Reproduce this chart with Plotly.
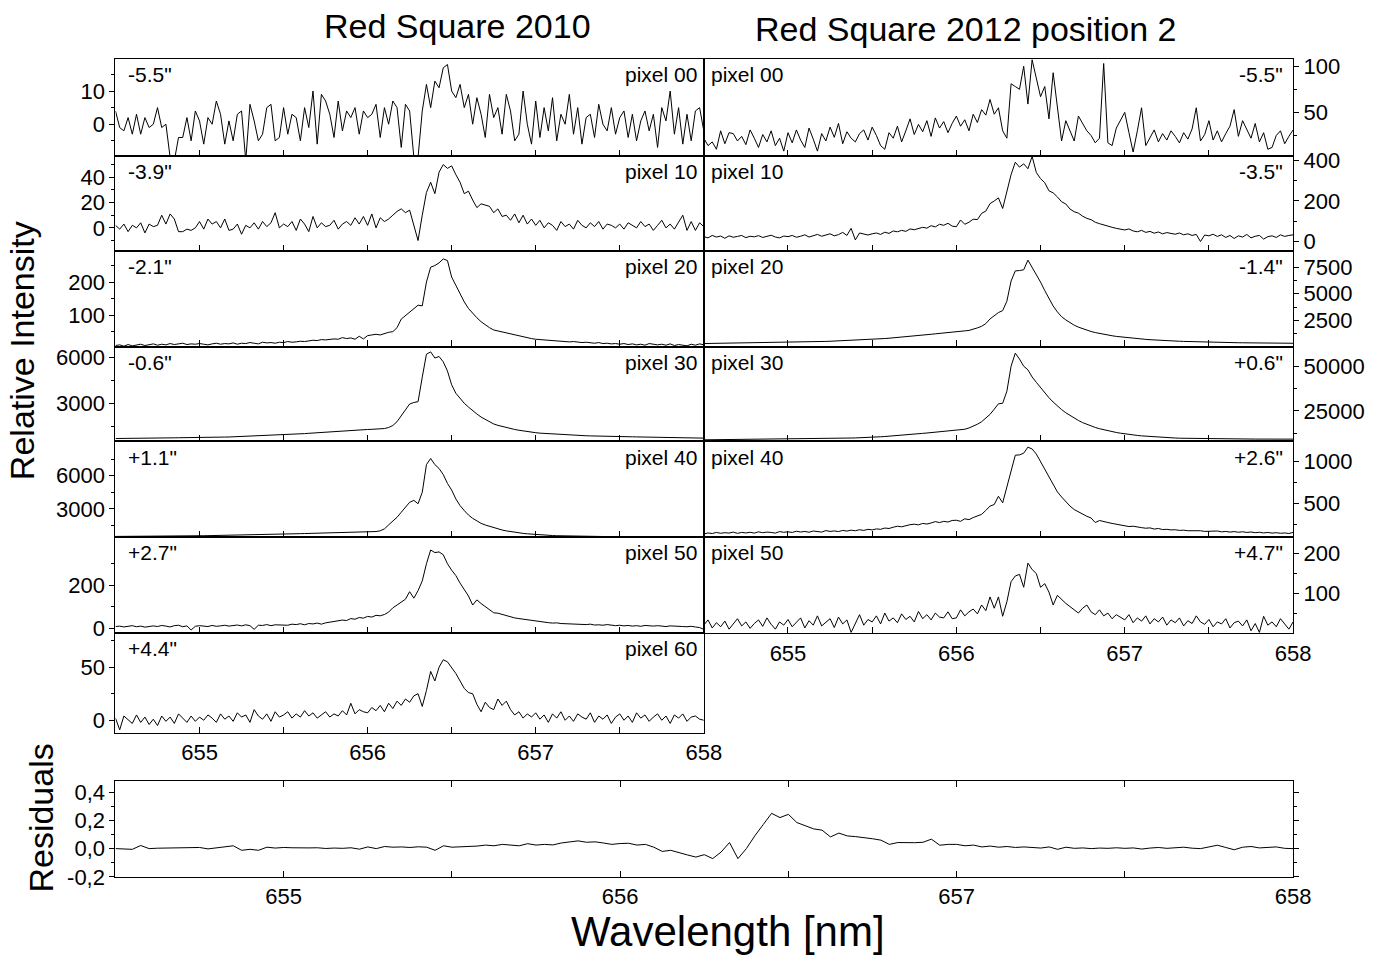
import plotly.graph_objects as go

# ---------------- data ----------------
WL = [654.5, 654.525, 654.55, 654.575, 654.6, 654.625, 654.65, 654.675, 654.7, 654.725,
      654.75, 654.775, 654.8, 654.825, 654.85, 654.875, 654.9, 654.925, 654.95, 654.975,
      655.0, 655.025, 655.05, 655.075, 655.1, 655.125, 655.15, 655.175, 655.2, 655.225,
      655.25, 655.275, 655.3, 655.325, 655.35, 655.375, 655.4, 655.425, 655.45, 655.475,
      655.5, 655.525, 655.55, 655.575, 655.6, 655.625, 655.65, 655.675, 655.7, 655.725,
      655.75, 655.775, 655.8, 655.825, 655.85, 655.875, 655.9, 655.925, 655.95, 655.975,
      656.0, 656.025, 656.05, 656.075, 656.1, 656.125, 656.15, 656.175, 656.2, 656.225,
      656.25, 656.275, 656.3, 656.325, 656.35, 656.375, 656.4, 656.425, 656.45, 656.475,
      656.5, 656.525, 656.55, 656.575, 656.6, 656.625, 656.65, 656.675, 656.7, 656.725,
      656.75, 656.775, 656.8, 656.825, 656.85, 656.875, 656.9, 656.925, 656.95, 656.975,
      657.0, 657.025, 657.05, 657.075, 657.1, 657.125, 657.15, 657.175, 657.2, 657.225,
      657.25, 657.275, 657.3, 657.325, 657.35, 657.375, 657.4, 657.425, 657.45, 657.475,
      657.5, 657.525, 657.55, 657.575, 657.6, 657.625, 657.65, 657.675, 657.7, 657.725,
      657.75, 657.775, 657.8, 657.825, 657.85, 657.875, 657.9, 657.925, 657.95, 657.975,
      658.0]

# Red Square 2010
L_PX00 = [4, -1, -2, 2, -3, 3, -3, 2, -1, 0, 5, -1, 0, -10, -11, -4, -4, 2, -5, 4,
          1, -6, 2, 0, 7, 3, -6, 1, -5, 3, 4, -11, 6, 1, -5, -3, 5, 6, -5, -4,
          5, -3, 3, 2, -5, 5, -1, 10, -6, 9, 7, 3, -4, 7, -2, 4, 2, 5, -3, 4,
          2, 3, 6, -4, 5, 0, 7, 5, -7, 6, 4, -10, -10, 4, 12, 5, 13, 11, 17, 18,
          10, 8, 12, 5, 9, 0, 8, 3, -4, 9, 2, 5, -3, 9, 4, -5, -3, 10, 0, -6,
          7, -4, 5, -2, 8, -5, 3, 0, 9, -3, 5, -6, 2, 3, -4, 6, 0, -2, 5, -3,
          2, 4, -4, 3, -5, 1, 4, -2, 3, -7, 5, 1, 10, -3, 5, -6, 3, -5, 4, 5, -2]
L_PX10 = [2, -1, 3, -3, 2, 0, 4, -4, 3, 1, 2, 10, 3, 11, 7, -3, -3, -1, -2, 0,
          5, -1, 7, 3, 5, 0, 7, -2, -1, 3, -5, 2, 0, 4, -1, 5, 1, 4, 12, 0,
          3, 1, 5, -2, 7, 3, -3, 9, 0, 4, 1, 2, 6, -1, 3, 5, 2, 8, 3, 9,
          2, 11, 0, 8, 5, 7, 10, 13, 15, 12, 14, 3, -10, 10, 28, 36, 27, 44, 50, 47,
          49, 42, 36, 27, 29, 22, 16, 19, 18, 17, 12, 15, 9, 10, 6, 11, 4, 10, 3, 7,
          2, 6, 0, 4, 2, -2, 5, 1, 3, -1, 6, 2, 0, 4, 1, 5, -1, 3, 2, 0,
          3, -1, 4, 2, 0, 5, 1, 3, -2, 2, 6, 0, 3, -1, 4, 10, -2, 5, -2, 4, 1]
L_PX20 = [8, 10, 6, 11, 7, 9, 12, 8, 10, 13, 9, 12, 10, 14, 11, 12, 15, 11, 13, 12,
          14, 12, 10, 13, 15, 12, 14, 13, 16, 12, 15, 14, 17, 15, 13, 18, 16, 17, 15, 18,
          17, 20, 18, 19, 21, 20, 22, 24, 23, 26, 25, 27, 28, 27, 32, 29, 31, 27, 36, 28,
          38, 40, 42, 40, 45, 48, 50, 62, 88, 98, 108, 120, 130, 128, 200, 245, 250, 258, 270, 265,
          215, 190, 165, 140, 120, 105, 92, 80, 70, 62, 55, 52, 48, 46, 42, 40, 36, 34, 31, 29,
          27, 26, 25, 24, 22, 23, 21, 20, 19, 20, 18, 17, 18, 16, 15, 17, 14, 15, 13, 14,
          12, 14, 11, 13, 10, 12, 9, 14, 11, 10, 12, 9, 13, 8, 11, 10, 7, 12, 9, 13, 10]
L_PX30 = [700, 700, 705, 710, 710, 715, 720, 720, 725, 730, 730, 735, 740, 740, 745, 750, 750, 755, 760, 760,
          765, 770, 775, 780, 785, 790, 795, 800, 810, 815, 820, 830, 840, 850, 860, 870, 880, 890, 900, 915,
          930, 945, 960, 980, 1000, 1020, 1040, 1060, 1080, 1100, 1130, 1150, 1170, 1190, 1210, 1230, 1250, 1260, 1270, 1280,
          1290, 1300, 1310, 1320, 1350, 1420, 1550, 1800, 2200, 2600, 2950, 3050, 3100, 4700, 6200, 6350, 5950, 6050, 5700, 5100,
          4200, 3650, 3300, 3000, 2750, 2500, 2300, 2100, 1950, 1800, 1650, 1560, 1480, 1410, 1350, 1290, 1240, 1190, 1150, 1110,
          1080, 1050, 1030, 1010, 990, 970, 955, 940, 925, 910, 900, 890, 880, 870, 860, 850, 845, 840, 835, 830,
          825, 820, 815, 810, 805, 800, 795, 790, 785, 780, 775, 770, 765, 760, 755, 750, 745, 740, 735, 730, 725]
L_PX40 = [520, 520, 525, 525, 530, 530, 535, 535, 540, 540, 545, 545, 550, 550, 555, 560, 560, 565, 570, 575,
          580, 585, 590, 595, 600, 605, 610, 615, 620, 625, 630, 640, 650, 660, 670, 680, 690, 700, 710, 720,
          730, 740, 750, 760, 770, 780, 790, 800, 810, 820, 830, 840, 850, 855, 860, 865, 870, 875, 880, 885,
          890, 920, 960, 1030, 1200, 1560, 1900, 2250, 2700, 3150, 3600, 3770, 3470, 4500, 7000, 7550, 7000, 6650, 6100, 5300,
          4700, 3900, 3300, 2850, 2450, 2150, 1900, 1700, 1550, 1420, 1300, 1190, 1100, 1020, 950, 890, 840, 795, 755, 720,
          690, 665, 640, 620, 600, 585, 572, 560, 550, 542, 535, 530, 525, 520, 518, 515, 512, 510, 508, 505,
          503, 500, 498, 496, 495, 493, 492, 490, 489, 488, 487, 486, 485, 484, 483, 482, 481, 480, 480, 480, 480]
L_PX50 = [8, 10, 6, 9, 12, 7, 10, 5, 9, 11, 8, 13, 10, 6, 12, 14, 7, 11, -8, 9,
          12, 10, 8, 13, 9, 11, 14, 10, 12, 15, 11, 16, 12, -5, 14, 13, 17, 12, 16, 15,
          16, 14, 19, 17, 21, 16, 22, 20, 24, 19, 25, 28, 30, 33, 38, 36, 45, 42, 50, 47,
          55, 52, 60, 58, 64, 75, 95, 108, 120, 135, 170, 140, 175, 220, 300, 364, 352, 355, 342, 300,
          270, 245, 210, 180, 150, 108, 132, 115, 100, 88, 72, 70, 64, 58, 52, 48, 45, 42, 40, 38,
          32, 30, 29, 26, 24, 25, 22, 21, 23, 19, 20, 18, 17, 19, 15, 16, 14, 17, 13, 12,
          14, 11, 13, 10, 12, 9, 13, 11, 10, 12, 9, 8, 11, 9, 10, 8, 7, 9, 6, 3, -5]
L_PX60 = [2, -9, 4, 0, -3, 5, -2, 3, -4, 1, -5, 4, -1, 3, -3, 6, 2, -2, 4, -1,
          3, 0, 5, 2, -2, 6, 1, 4, -1, 7, 3, 5, -2, 10, 4, 1, 6, -1, 8, 3,
          5, 8, 2, 6, 3, 9, 4, 7, 2, 5, 8, 3, 6, 4, 9, 5, 16, 6, 10, 8,
          7, 12, 9, 14, 8, 16, 11, 18, 14, 20, 17, 23, 25, 13, 28, 46, 37, 50, 57, 55,
          50, 44, 37, 30, 26, 25, 15, 8, 17, 12, 10, 20, 14, 18, 10, 5, 8, 2, 6, 3,
          7, 1, 5, -2, 6, 2, 8, 0, 4, -1, 6, 3, 1, 7, -2, 4, 1, 5, -3, 3,
          6, 0, 4, -2, 7, 2, 5, -1, 3, 6, 0, 4, -3, 5, 2, 6, -1, 3, 4, 1, 0]

# Red Square 2012 position 2
R_PX00 = [22, 14, 18, 10, 30, 16, 28, 27, 19, 24, 15, 31, 22, 12, 26, 18, 30, 14, 22, 8,
          28, 17, 31, 20, 12, 33, 21, 8, 27, 19, 34, 23, 38, 16, 29, 22, 18, 27, 31, 20,
          34, 25, 14, 10, 28, 22, 35, 18, 30, 43, 26, 37, 29, 41, 24, 44, 33, 40, 28, 38,
          46, 35, 42, 30, 48, 39, 53, 47, 64, 48, 55, 30, 22, 81, 78, 75, 100, 59, 107, 86,
          67, 78, 43, 93, 57, 19, 41, 30, 19, 46, 38, 30, 25, 17, 22, 103, 17, 14, 33, 42,
          50, 28, 7, 30, 55, 14, 22, 31, 18, 27, 20, 30, 24, 17, 28, 21, 32, 55, 19, 26,
          41, 20, 30, 18, 27, 35, 53, 24, 41, 32, 22, 38, 18, 28, 10, 12, 25, 30, 16, 24, 31]
R_PX10 = [24, 18, 30, 22, 27, 16, 28, 21, 25, 30, 19, 26, 23, 29, 20, 25, 31, 22, 18, 27,
          24, 30, 21, 26, 33, 22, 29, 35, 26, 31, 38, 28, 34, 45, 30, 65, 8, 42, 36, 32,
          38, 42, 35, 46, 40, 52, 48, 55, 50, 62, 58, 64, 70, 66, 78, 72, 85, 80, 90, 76,
          73, 106, 85, 95, 110, 108, 139, 150, 187, 200, 215, 163, 250, 330, 391, 367, 383, 359, 420, 340,
          310, 290, 250, 240, 220, 196, 185, 160, 147, 140, 125, 114, 108, 95, 88, 81, 76, 70, 65, 60,
          57, 62, 52, 48, 55, 45, 50, 41, 47, 38, 44, 40, 36, 42, 33, 38, 30, 35, 0, 32,
          28, 36, 25, 33, 20, 30, 15, 28, 22, 35, 18, 26, 30, 12, 24, 28, 20, 33, 25, 30, 33]
R_PX20 = [330, 335, 340, 345, 350, 355, 360, 365, 370, 375, 380, 385, 390, 400, 405, 410, 420, 425, 430, 440,
          450, 455, 465, 470, 480, 490, 500, 510, 520, 530, 545, 560, 575, 590, 605, 620, 640, 660, 680, 700,
          720, 745, 770, 800, 830, 860, 890, 920, 950, 990, 1030, 1070, 1110, 1150, 1200, 1240, 1290, 1330, 1360, 1400,
          1450, 1480, 1520, 1560, 1650, 1800, 1950, 2200, 2640, 2950, 3240, 3420, 4300, 6200, 7150, 7180, 7250, 8160, 7500, 6800,
          6100, 5300, 4500, 3850, 3300, 2850, 2550, 2280, 2050, 1870, 1710, 1580, 1460, 1360, 1270, 1190, 1120, 1060, 1000, 950,
          900, 860, 820, 780, 750, 720, 690, 660, 640, 620, 600, 580, 560, 545, 530, 515, 500, 490, 480, 470,
          460, 450, 440, 430, 425, 420, 410, 405, 400, 395, 390, 385, 380, 375, 370, 368, 365, 362, 360, 358, 355]
R_PX30 = [8900, 8920, 8940, 8960, 8980, 9000, 9020, 9040, 9060, 9080, 9100, 9120, 9140, 9160, 9180, 9200, 9230, 9260, 9290, 9320,
          9350, 9380, 9410, 9440, 9470, 9500, 9530, 9560, 9600, 9640, 9680, 9720, 9760, 9800, 9850, 9900, 9950, 10000, 10100, 10200,
          10300, 10450, 10600, 10750, 10900, 11100, 11300, 11500, 11700, 11900, 12100, 12300, 12500, 12700, 12900, 13100, 13300, 13500, 13700, 13900,
          14200, 14500, 14800, 15500, 16500, 17600, 19000, 21000, 23100, 26000, 29000, 29300, 36000, 50000, 57300, 54000, 50000, 48000, 44000, 41000,
          38000, 35000, 32400, 30000, 27800, 25800, 24000, 22400, 21000, 19700, 18500, 17500, 16600, 15800, 15100, 14500, 14000, 13500, 13000, 12600,
          12200, 11900, 11600, 11350, 11100, 10900, 10700, 10550, 10400, 10250, 10100, 10000, 9900, 9800, 9750, 9700, 9650, 9600, 9550, 9500,
          9480, 9460, 9440, 9420, 9400, 9380, 9370, 9360, 9350, 9340, 9330, 9320, 9310, 9300, 9300, 9290, 9290, 9280, 9280, 9270, 9270]
R_PX40 = [140, 152, 145, 158, 148, 155, 150, 162, 147, 158, 152, 160, 150, 165, 155, 162, 158, 150, 168, 160,
          165, 158, 172, 163, 170, 160, 175, 168, 162, 180, 170, 176, 168, 182, 174, 185, 178, 190, 182, 195,
          188, 200, 195, 210, 205, 220, 232, 225, 240, 250, 256, 248, 265, 258, 270, 287, 275, 290, 282, 300,
          303, 290, 320, 310, 335, 355, 373, 420, 471, 490, 588, 510, 700, 900, 1076, 1080, 1100, 1172, 1150, 1090,
          1000, 900, 820, 720, 640, 580, 520, 471, 430, 400, 373, 350, 330, 276, 300, 285, 276, 265, 255, 245,
          237, 228, 232, 220, 215, 208, 212, 198, 205, 192, 195, 188, 190, 182, 185, 178, 180, 175, 178, 170,
          172, 168, 175, 165, 170, 162, 168, 160, 166, 158, 163, 155, 160, 152, 158, 150, 155, 148, 152, 145, 158]
R_PX50 = [22, 35, 15, 28, 18, 32, 12, 25, 38, 20, 30, 14, 26, 35, 19, 40, 24, 12, 30, 22,
          36, 18, 28, 40, 15, 33, 22, 45, 20, 30, 38, 16, 42, 25, 35, 4, 28, 48, 22, 36,
          30, 45, 25, 52, 32, 40, 28, 50, 36, 44, 30, 56, 38, 48, 35, 52, 42, 40, 55, 38,
          40, 60, 45, 55, 62, 50, 72, 58, 92, 64, 92, 44, 80, 130, 144, 148, 116, 176, 160, 150,
          116, 125, 104, 72, 96, 85, 76, 68, 60, 52, 64, 72, 55, 48, 60, 45, 52, 38, 48, 42,
          35, 48, 28, 40, 32, 45, 25, 38, 30, 42, 22, 35, 28, 40, 20, 33, 26, 45, 30, 24,
          36, 18, 30, 25, 38, 15, 28, 32, 20, 35, 8, 26, 4, 44, 22, 30, 18, 38, 25, 12, 30]

RESID = [0.000, -0.004, -0.005, 0.022, 0.000, 0.003, 0.004, 0.005, 0.006, 0.003,
         0.008, -0.002, 0.005, 0.010, 0.020, -0.012, -0.005, -0.012, 0.010, 0.004,
         0.008, 0.006, 0.003, 0.005, 0.006, 0.001, 0.004, 0.002, 0.006, -0.004,
         0.012, 0.000, 0.015, 0.010, 0.012, 0.008, 0.013, 0.010, -0.012, 0.020,
         0.010, 0.012, 0.015, 0.018, 0.025, 0.020, 0.030, 0.024, 0.020, 0.035,
         0.025, 0.030, 0.026, 0.040, 0.045, 0.055, 0.045, 0.048, 0.040, 0.030,
         0.036, 0.038, 0.025, 0.030, 0.010, -0.020, -0.012, -0.030, -0.045, -0.060,
         -0.043, -0.071, -0.024, 0.043, -0.071, 0.000, 0.090, 0.170, 0.250, 0.220,
         0.243, 0.185, 0.160, 0.140, 0.131, 0.083, 0.110, 0.090, 0.085, 0.080,
         0.070, 0.060, 0.030, 0.043, 0.040, 0.042, 0.045, 0.067, 0.024, 0.030,
         0.030, 0.020, 0.025, 0.012, 0.018, 0.010, 0.015, 0.008, 0.012, 0.010,
         0.004, 0.012, -0.005, 0.010, 0.002, 0.005, 0.000, 0.004, 0.002, 0.006,
         0.002, 0.005, -0.003, 0.004, 0.008, 0.002, 0.006, 0.010, 0.003, 0.000,
         0.012, 0.024, 0.008, -0.008, 0.010, 0.015, 0.005, 0.010, 0.012, 0.002, 0.000]

LEFT_SERIES = [L_PX00, L_PX10, L_PX20, L_PX30, L_PX40, L_PX50, L_PX60]
LEFT_OFFSET = ['-5.5"', '-3.9"', '-2.1"', '-0.6"', '+1.1"', '+2.7"', '+4.4"']
LEFT_PIXEL = ['pixel 00', 'pixel 10', 'pixel 20', 'pixel 30', 'pixel 40', 'pixel 50', 'pixel 60']
LEFT_YRANGE = [[-9.5, 19.7], [-18, 57], [5, 295], [510, 6700], [440, 9090], [-23, 423], [-12, 82]]
LEFT_YTICKS = [[0, 10], [0, 20, 40], [100, 200], [3000, 6000], [3000, 6000], [0, 200], [0, 50]]
LEFT_YMINOR = [[-5, 5, 15], [-10, 10, 30, 50], [50, 150, 250], [1500, 4500], [1500, 4500, 7500],
               [100, 300], [25, 75]]

RIGHT_SERIES = [R_PX00, R_PX10, R_PX20, R_PX30, R_PX40, R_PX50]
RIGHT_OFFSET = ['-5.5"', '-3.5"', '-1.4"', '+0.6"', '+2.6"', '+4.7"']
RIGHT_PIXEL = ['pixel 00', 'pixel 10', 'pixel 20', 'pixel 30', 'pixel 40', 'pixel 50']
RIGHT_YRANGE = [[3, 108], [-45, 423], [50, 9050], [8000, 61000], [100, 1240], [2, 240]]
RIGHT_YTICKS = [[50, 100], [0, 200, 400], [2500, 5000, 7500], [25000, 50000], [500, 1000], [100, 200]]
RIGHT_YMINOR = [[25, 75], [100, 300], [1250, 3750, 6250], [12500, 37500], [250, 750], [50, 150]]

RESID_YRANGE = [-0.2, 0.48]
RESID_YTICKS = [-0.2, 0.0, 0.2, 0.4]
RESID_YTEXT = ['-0,2', '0,0', '0,2', '0,4']
RESID_YMINOR = [-0.1, 0.1, 0.3]

X_RANGE = [654.5, 658.0]
X_TICKS = [655, 656, 657, 658]
X_TICKTEXT = ['655', '656', '657', '658']
X_MINOR = [655.5, 656.5, 657.5]

# ---------------- layout helpers ----------------
W, H = 1395, 972
FONT = 'Liberation Sans, Arial, Helvetica, sans-serif'
YTICKFONT = dict(family=FONT, size=22, color='black')
XTICKFONT = dict(family=FONT, size=22, color='black')
LABELFONT = dict(family=FONT, size=21, color='black')
BORDER = 1.2

ROW_TOP = [52, 151, 248, 346, 443, 541, 639]
ROW_BOT = [151, 248, 346, 443, 541, 639, 741]
LEFT_X = (117, 713)
RIGHT_X = (713, 1310)


def px(xp):
    return xp / W


def py(yp):
    return 1 - yp / H


fig = go.Figure()
layout = dict(width=W, height=H, margin=dict(l=0, r=0, t=0, b=0),
              paper_bgcolor='white', plot_bgcolor='white', showlegend=False,
              font=dict(family=FONT, color='black'))
annotations = []


def xaxis_dict(xdom, yname, show_labels, mirror):
    return dict(
        domain=[px(xdom[0]), px(xdom[1])], anchor=yname, range=X_RANGE,
        tickvals=X_TICKS, ticktext=X_TICKTEXT, showticklabels=show_labels,
        ticks='inside', ticklen=6, tickwidth=1.1, tickcolor='black',
        minor=dict(tickvals=X_MINOR, ticks='inside', ticklen=6, tickwidth=1.1, tickcolor='black'),
        showline=True, linecolor='black', linewidth=BORDER, mirror=mirror,
        showgrid=False, zeroline=False, tickfont=XTICKFONT, fixedrange=True)


def yaxis_dict(ydom, xname, rng, ticks, text, minor, side, mirror):
    return dict(
        domain=[py(ydom[1]), py(ydom[0])], anchor=xname, range=rng, side=side,
        tickvals=ticks, ticktext=text,
        ticks='outside', ticklen=5, tickwidth=1.1, tickcolor='black',
        minor=dict(tickvals=minor, ticks='outside', ticklen=3, tickwidth=1.1, tickcolor='black'),
        showline=True, linecolor='black', linewidth=BORDER, mirror=mirror,
        showgrid=False, zeroline=False, tickfont=YTICKFONT, fixedrange=True)


def add_panel(n, series, xdom, ydom, yrng, yticks, ytext, yminor, side, show_xlabels, mirror=True):
    xname = 'x' if n == 1 else 'x%d' % n
    yname = 'y' if n == 1 else 'y%d' % n
    fig.add_trace(go.Scatter(x=WL, y=series, mode='lines',
                             line=dict(color='black', width=1.0),
                             xaxis=xname, yaxis=yname, hoverinfo='skip'))
    layout['xaxis' if n == 1 else 'xaxis%d' % n] = xaxis_dict(xdom, yname, show_xlabels, mirror)
    layout['yaxis' if n == 1 else 'yaxis%d' % n] = yaxis_dict(ydom, xname, yrng, yticks, ytext,
                                                               yminor, side, mirror)


def panel_label(xp, yp, text, anchor):
    annotations.append(dict(x=px(xp), y=py(yp), xref='paper', yref='paper', text=text,
                            showarrow=False, xanchor=anchor, yanchor='middle', font=LABELFONT))


n = 0
for r in range(7):
    n += 1
    add_panel(n, LEFT_SERIES[r], LEFT_X, (ROW_TOP[r], ROW_BOT[r]), LEFT_YRANGE[r],
              LEFT_YTICKS[r], [str(v) for v in LEFT_YTICKS[r]], LEFT_YMINOR[r], 'left', r == 6)
    panel_label(128, ROW_TOP[r] + 16, LEFT_OFFSET[r], 'left')
    panel_label(708, ROW_TOP[r] + 16, LEFT_PIXEL[r], 'right')

for r in range(6):
    n += 1
    add_panel(n, RIGHT_SERIES[r], RIGHT_X, (ROW_TOP[r], ROW_BOT[r]), RIGHT_YRANGE[r],
              RIGHT_YTICKS[r], [str(v) for v in RIGHT_YTICKS[r]], RIGHT_YMINOR[r], 'right', r == 5)
    panel_label(718, ROW_TOP[r] + 16, RIGHT_PIXEL[r], 'left')
    panel_label(1302, ROW_TOP[r] + 16, RIGHT_OFFSET[r], 'right')

n += 1
add_panel(n, RESID, (117, 1310), (790, 888), RESID_YRANGE, RESID_YTICKS, RESID_YTEXT,
          RESID_YMINOR, 'left', True, mirror='ticks')


def big_text(xp, yp, text, size, angle=0):
    annotations.append(dict(x=px(xp), y=py(yp), xref='paper', yref='paper', text=text,
                            showarrow=False, xanchor='center', yanchor='middle', textangle=angle,
                            font=dict(family=FONT, size=size, color='black')))


big_text(463, 18, 'Red Square 2010', 34)
big_text(979, 21, 'Red Square 2012 position 2', 34)
big_text(23, 350, 'Relative Intensity', 34, -90)
big_text(42, 828, 'Residuals', 34, -90)
big_text(738, 944, 'Wavelength [nm]', 42)

layout['annotations'] = annotations
fig.update_layout(**layout)
fig.write_html('out.html', config=dict(displayModeBar=False))
